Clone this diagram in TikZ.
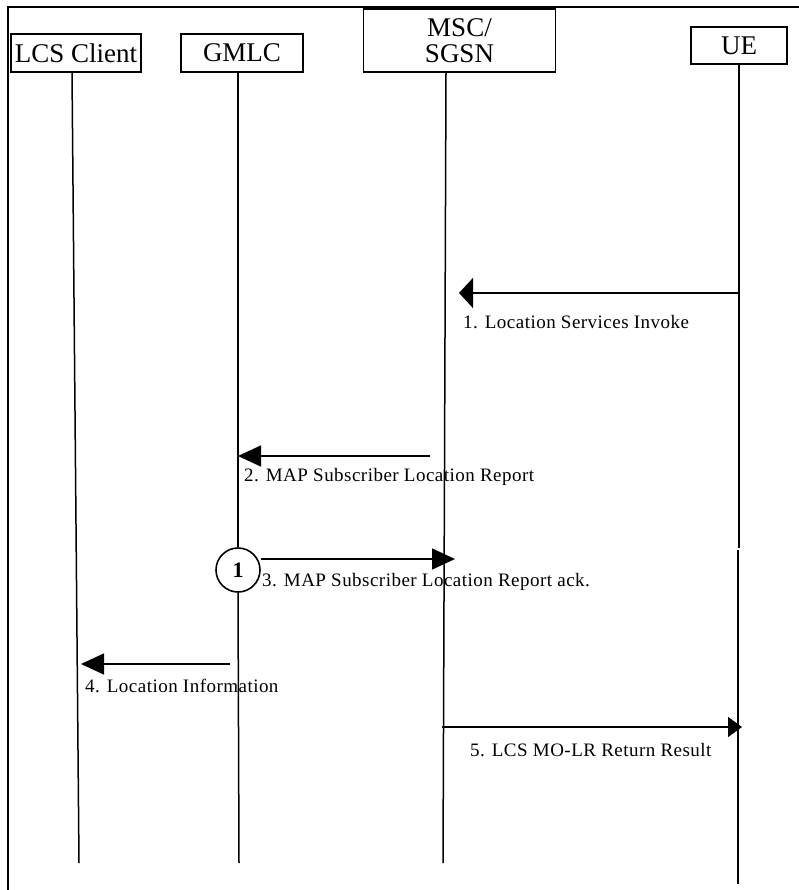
\documentclass[tikz,border=0pt]{standalone}
\usepackage{fontspec}
\setmainfont{Liberation Serif}
\usetikzlibrary{arrows.meta}
\newfontfamily\msgfont[LetterSpace=2.5]{Liberation Serif}
\begin{document}
\begin{tikzpicture}[x=1pt,y=-1pt,
  entity/.style={draw,line width=1.3pt,rectangle,inner sep=0pt,font=\fontsize{27}{26}\selectfont,align=center},
  life/.style={line width=1.5pt},
  msg/.style={line width=1.5pt},
  lbl/.style={anchor=west,inner sep=0pt,font=\msgfont\fontsize{19}{21}\selectfont},
  tipA/.style={-{Triangle[length=14pt,width=30pt]}},
  tipB/.style={-{Triangle[length=23pt,width=21pt]}},
  tipC/.style={-{Triangle[length=14pt,width=20pt]}},
  marker/.style={draw,circle,line width=1.6pt,fill=white,minimum size=44pt,inner sep=0pt,font=\bfseries\fontsize{22}{22}\selectfont}
]
\useasboundingbox (0,0) rectangle (798,890);
% frame
\draw[line width=2.2pt] (8,891) -- (8,7) -- (800,7);

% entities
\node[entity,minimum width=130pt,minimum height=38pt] (lcs) at (76,53) {LCS Client};
\node[entity,minimum width=122pt,minimum height=38pt] (gmlc) at (242,53) {GMLC};
\node[entity,minimum width=192pt,minimum height=63pt] (msc) at (459.5,40.5) {MSC/\\SGSN};
\node[entity,minimum width=96pt,minimum height=37pt] (ue) at (739,45.5) {UE};

% lifeline coordinates
\coordinate (lcsT) at (72,72);   \coordinate (lcsB) at (79,863);
\coordinate (gmT) at (238,72);   \coordinate (gmB) at (239,863);
\coordinate (msT) at (446,72);   \coordinate (msB) at (443,863);
\coordinate (ueT) at (739,64);   \coordinate (ueM) at (739,548);
\coordinate (ueN) at (738,550);  \coordinate (ueB) at (738,884);

\node[marker] (m1) at (238,570) {1};

\draw[life] (lcsT) -- (lcsB);
\draw[life] (gmT) -- (m1.north);
\draw[life] (m1.south) -- (gmB);
\draw[life] (msT) -- (msB);
\draw[life] (ueT) -- (ueM);
\draw[life] (ueN) -- (ueB);

% message coordinates
\coordinate (a1s) at (739,293); \coordinate (a1e) at (459,293);
\coordinate (a2s) at (430,456); \coordinate (a2e) at (238,456);
\coordinate (a3e) at (455,559);
\coordinate (a4s) at (230,664); \coordinate (a4e) at (81,664);
\coordinate (a5s) at (442,727); \coordinate (a5e) at (742,727);

\draw[msg,tipA] (a1s) -- (a1e);
\draw[msg,tipB] (a2s) -- (a2e);
\draw[msg,tipB] (m1.east |- a3e) -- (a3e);
\draw[msg,tipB] (a4s) -- (a4e);
\draw[msg,tipC] (a5s) -- (a5e);

\node[lbl] (l1) at (463,322) {1. Location Services Invoke};
\node[lbl] (l2) at (244,477) {2. MAP Subscriber Location Report};
\node[lbl] (l3) at (262,582) {3. MAP Subscriber Location Report ack.};
\node[lbl] (l4) at (85,686) {4. Location Information};
\node[lbl] (l5) at (470,750) {5. LCS MO-LR Return Result};
\end{tikzpicture}
\end{document}
